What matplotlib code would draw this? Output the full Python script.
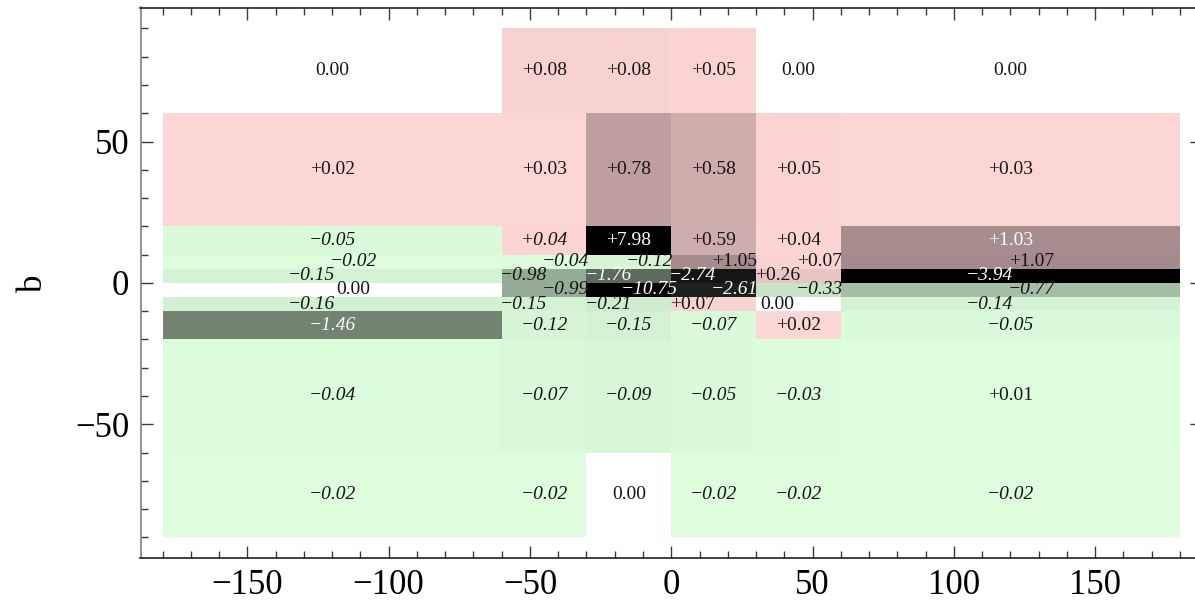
import numpy as np
import matplotlib
matplotlib.use("Agg")
import matplotlib.pyplot as plt
from matplotlib.ticker import MultipleLocator, FixedLocator
from matplotlib.transforms import offset_copy

# ---------------- data ----------------
l_edges = [-180, -60, -30, 0, 30, 60, 180]
b_edges = [-90, -60, -20, -10, -5, 0, 5, 10, 20, 60, 90]

# rows from bottom (b=-90..-60) to top (b=60..90), columns along l
values = [
    [-0.02, -0.02, 0.00, -0.02, -0.02, -0.02],
    [-0.04, -0.07, -0.09, -0.05, -0.03, 0.01],
    [-1.46, -0.12, -0.15, -0.07, 0.02, -0.05],
    [-0.16, -0.15, -0.21, 0.07, 0.00, -0.14],
    [0.00, -0.99, -10.75, -2.61, -0.33, -0.77],
    [-0.15, -0.98, -1.76, -2.74, 0.26, -3.94],
    [-0.02, -0.04, -0.12, 1.05, 0.07, 1.07],
    [-0.05, 0.04, 7.98, 0.59, 0.04, 1.03],
    [0.02, 0.03, 0.78, 0.58, 0.05, 0.03],
    [0.00, 0.08, 0.08, 0.05, 0.00, 0.00],
]
# cells whose shading is green although the label is positive
green_cells = [(1, 5)]
# positive labels set in italics
italic_cells = [(7, 1)]
# labels drawn in white
white_text_cells = [(2, 0), (4, 2), (4, 3), (5, 2), (5, 3), (5, 5), (7, 2), (7, 5)]
# horizontal label shift per row (in units of the shift size)
row_label_shift = [0, 0, 0, -1, 1, -1, 1, 0, 0, 0]

# ---------------- style ----------------
PINK = np.array([255, 215, 215]) / 255.0
GREEN = np.array([222, 255, 222]) / 255.0
SERIF = "Liberation Serif"

nrow, ncol = len(values), len(values[0])
rgb = np.ones((nrow, ncol, 3))
for i in range(nrow):
    for j in range(ncol):
        v = values[i][j]
        if v == 0:
            continue
        neg = v < 0 or (i, j) in green_cells
        base = GREEN if neg else PINK
        m = float(np.clip(1 - abs(v) / 3.0, 0, 1))
        rgb[i, j] = base * m

fig = plt.figure(figsize=(11.95, 6.10), dpi=100)
W, H = 1195, 610
ax = fig.add_axes([140.5 / W, (H - 558) / H, (1202 - 140.5) / W, (558 - 7.5) / H])

ax.pcolormesh(l_edges, b_edges, rgb, shading="flat", edgecolors="none",
              antialiased=False, zorder=1)

lc = [(l_edges[j] + l_edges[j + 1]) / 2 for j in range(ncol)]
bc = [(b_edges[i] + b_edges[i + 1]) / 2 for i in range(nrow)]
for i in range(nrow):
    tr = offset_copy(ax.transData, fig=fig, x=15.0 * row_label_shift[i], y=0, units="points")
    for j in range(ncol):
        v = values[i][j]
        if v == 0:
            s = "0.00"
        else:
            s = f"{v:+.2f}".replace("-", "\u2212")
        style = "italic" if (v < 0 or (i, j) in italic_cells) else "normal"
        col = "white" if (i, j) in white_text_cells else "#151515"
        ax.text(lc[j], bc[i], s, transform=tr, ha="center", va="center",
                fontsize=14, family=SERIF, style=style, color=col, zorder=3)

ax.set_xlim(-187.8, 187.8)
ax.set_ylim(-97.3, 97.4)
ax.xaxis.set_major_locator(FixedLocator([-150, -100, -50, 0, 50, 100, 150]))
ax.yaxis.set_major_locator(FixedLocator([-50, 0, 50]))
ax.xaxis.set_minor_locator(MultipleLocator(10))
ax.yaxis.set_minor_locator(MultipleLocator(10))
ax.tick_params(which="both", direction="in", top=True, right=True,
               color="#3a3a3a", width=1.0)
ax.tick_params(which="major", length=8.5, labelsize=25, pad=8)
ax.tick_params(which="minor", length=5)
for lab in ax.get_xticklabels() + ax.get_yticklabels():
    lab.set_family(SERIF)

for name, sp in ax.spines.items():
    sp.set_linewidth(1.2)
    sp.set_color("#222222")
ax.spines["left"].set_color("#808080")

ax.set_ylabel("b", fontsize=25, family=SERIF)
ax.yaxis.set_label_coords((50 - 140.5) / (1202 - 140.5), 0.5)

fig.savefig("out.png", dpi=100)
